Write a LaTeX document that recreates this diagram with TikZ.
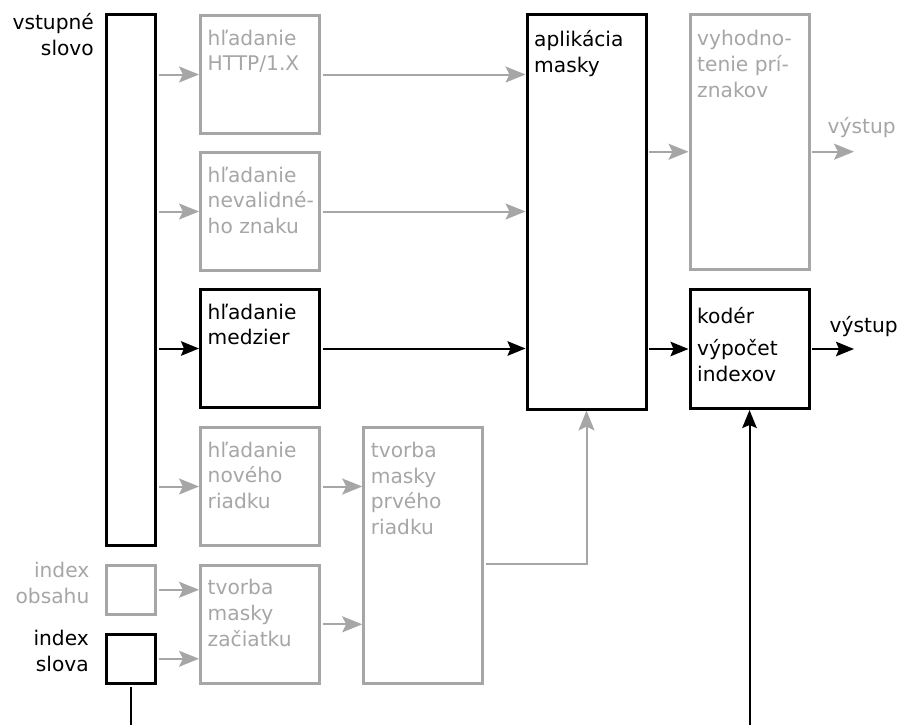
\documentclass[tikz,border=0pt]{standalone}
\usepackage{fontspec}
\setmainfont{DejaVu Sans}
\usetikzlibrary{arrows.meta}
\definecolor{dimc}{RGB}{166,166,166}

\begin{document}
\begin{tikzpicture}[x=1pt,y=-1pt,
  every node/.style={font=\fontsize{20.2}{25.8}\selectfont},
  box/.style={draw, line width=3pt, inner sep=0pt,
              minimum width=119pt, minimum height=118pt},
  kbox/.style={box, draw=black},
  gbox/.style={box, draw=dimc},
  % captions hang from the top of a strut on their first line
  txt/.style={anchor=north west, align=left, inner sep=0pt,
              execute at begin node=\strut},
  lbl/.style={anchor=north east, align=right, inner sep=0pt,
              execute at begin node=\strut},
  karr/.style={line width=2pt, draw=black,
              -{Stealth[length=18pt,width=14.5pt,inset=3pt]}},
  garr/.style={line width=2pt, draw=dimc,
              -{Stealth[length=20pt,width=16pt,inset=4pt]}},
  kline/.style={line width=2pt, draw=black},
]
\useasboundingbox (0,0) rectangle (899,725);

% input blocks on the left
\node[kbox, minimum width=49.5pt, minimum height=531pt] (inp) at (130.75,280) {};
\node[gbox, minimum width=49.5pt, minimum height=49.5pt] (obs) at (130.75,589.75) {};
\node[kbox, minimum width=49.5pt, minimum height=49.5pt] (sl) at (130.75,658.75) {};
\node[lbl] (inpL) at (94,13.6) {vstupné\\slovo};
\node[lbl, text=dimc] (obsL) at (89.5,562) {index\\obsahu};
\node[lbl] (slL) at (89,630.3) {index\\slova};

% first processing column
\node[gbox] (http) at (260,74.5) {};
\node[gbox] (nev) at (260,211.5) {};
\node[kbox] (med) at (260,348.5) {};
\node[gbox] (nov) at (260,486.5) {};
\node[gbox] (zac) at (260,624.3) {};

% mask of the first line
\node[gbox, minimum height=256pt] (prv) at (423.2,555.7) {};

% mask application
\node[kbox, minimum height=394pt] (apl) at (586.5,212) {};

% output stages
\node[gbox, minimum height=254.5pt] (vyh) at (749.5,142.25) {};
\node[kbox, minimum height=119pt] (kod) at (749.5,349) {};

% box captions
\node[txt, text=dimc] (httpT) at ([xshift=8.5pt,yshift=-15.5pt]http.north west) {hľadanie\\HTTP/1.X};
\node[txt, text=dimc] (nevT) at ([xshift=8.5pt,yshift=-15.5pt]nev.north west) {hľadanie\\nevalidné-\\ho znaku};
\node[txt] (medT) at ([xshift=8.5pt,yshift=-15.5pt]med.north west) {hľadanie\\medzier};
\node[txt, text=dimc] (novT) at ([xshift=8.5pt,yshift=-15.5pt]nov.north west) {hľadanie\\nového\\riadku};
\node[txt, text=dimc] (zacT) at ([xshift=8.5pt,yshift=-15.5pt]zac.north west) {tvorba\\masky\\začiatku};
\node[txt, text=dimc] (prvT) at ([xshift=8.5pt,yshift=-15.5pt]prv.north west) {tvorba\\masky\\prvého\\riadku};
\node[txt] (aplT) at ([xshift=8.5pt,yshift=-16.5pt]apl.north west) {aplikácia\\masky};
\node[txt, text=dimc] (vyhT) at ([xshift=8.5pt,yshift=-16.5pt]vyh.north west) {vyhodno-\\tenie prí-\\znakov};
\node[txt] (kodT) at ([xshift=8.5pt,yshift=-17pt]kod.north west) {kodér};
\node[txt] (kodT2) at ([xshift=8.5pt,yshift=-51pt]kod.north west) {výpočet\\indexov};

% outputs and bottom ends
\coordinate (vin) at ([yshift=-9.5pt]vyh.west);
\coordinate (vout) at (854,151.7);
\coordinate (kout) at (854,349);
\coordinate (slend) at (sl.south |- 0,725);
\coordinate (kin) at (kod.south |- 0,725);
\coordinate (prvo) at ([yshift=-8.5pt]prv.east);

\node[anchor=base west, inner sep=0pt, text=dimc] (voutL) at (827.5,133.3) {výstup};
\node[anchor=base west, inner sep=0pt] (koutL) at (829.5,332.5) {výstup};

% connectors
\draw[garr, shorten <=1.5pt] (inp.east |- http.west) -- (http.west);
\draw[garr, shorten <=1.5pt] (inp.east |- nev.west) -- (nev.west);
\draw[karr, shorten <=1.5pt] (inp.east |- med.west) -- (med.west);
\draw[garr, shorten <=1.5pt] (inp.east |- nov.west) -- (nov.west);
\draw[garr, shorten <=1.5pt] (obs.east) -- (obs.east -| zac.west);
\draw[garr, shorten <=1.5pt] (sl.east) -- (sl.east -| zac.west);

\draw[garr, shorten <=1.5pt] (http.east) -- (http.east -| apl.west);
\draw[garr, shorten <=1.5pt] (nev.east) -- (nev.east -| apl.west);
\draw[karr, shorten <=1.5pt] (med.east) -- (med.east -| apl.west);
\draw[garr, shorten <=1.5pt] (nov.east) -- (nov.east -| prv.west);
\draw[garr, shorten <=1.5pt] (zac.east) -- (zac.east -| prv.west);

\draw[garr, shorten <=1.5pt] (prvo) -| (apl.south);

\draw[garr, shorten <=1.5pt] (apl.east |- vin) -- (vin);
\draw[garr, shorten <=1.5pt] (vyh.east |- vout) -- (vout);
\draw[karr, shorten <=1.5pt] (apl.east |- kod.west) -- (kod.west);
\draw[karr, shorten <=1.5pt] (kod.east) -- (kout);

\draw[kline, shorten <=1.5pt] (sl.south) -- (slend);
\draw[karr] (kin) -- (kod.south);
\end{tikzpicture}
\end{document}
